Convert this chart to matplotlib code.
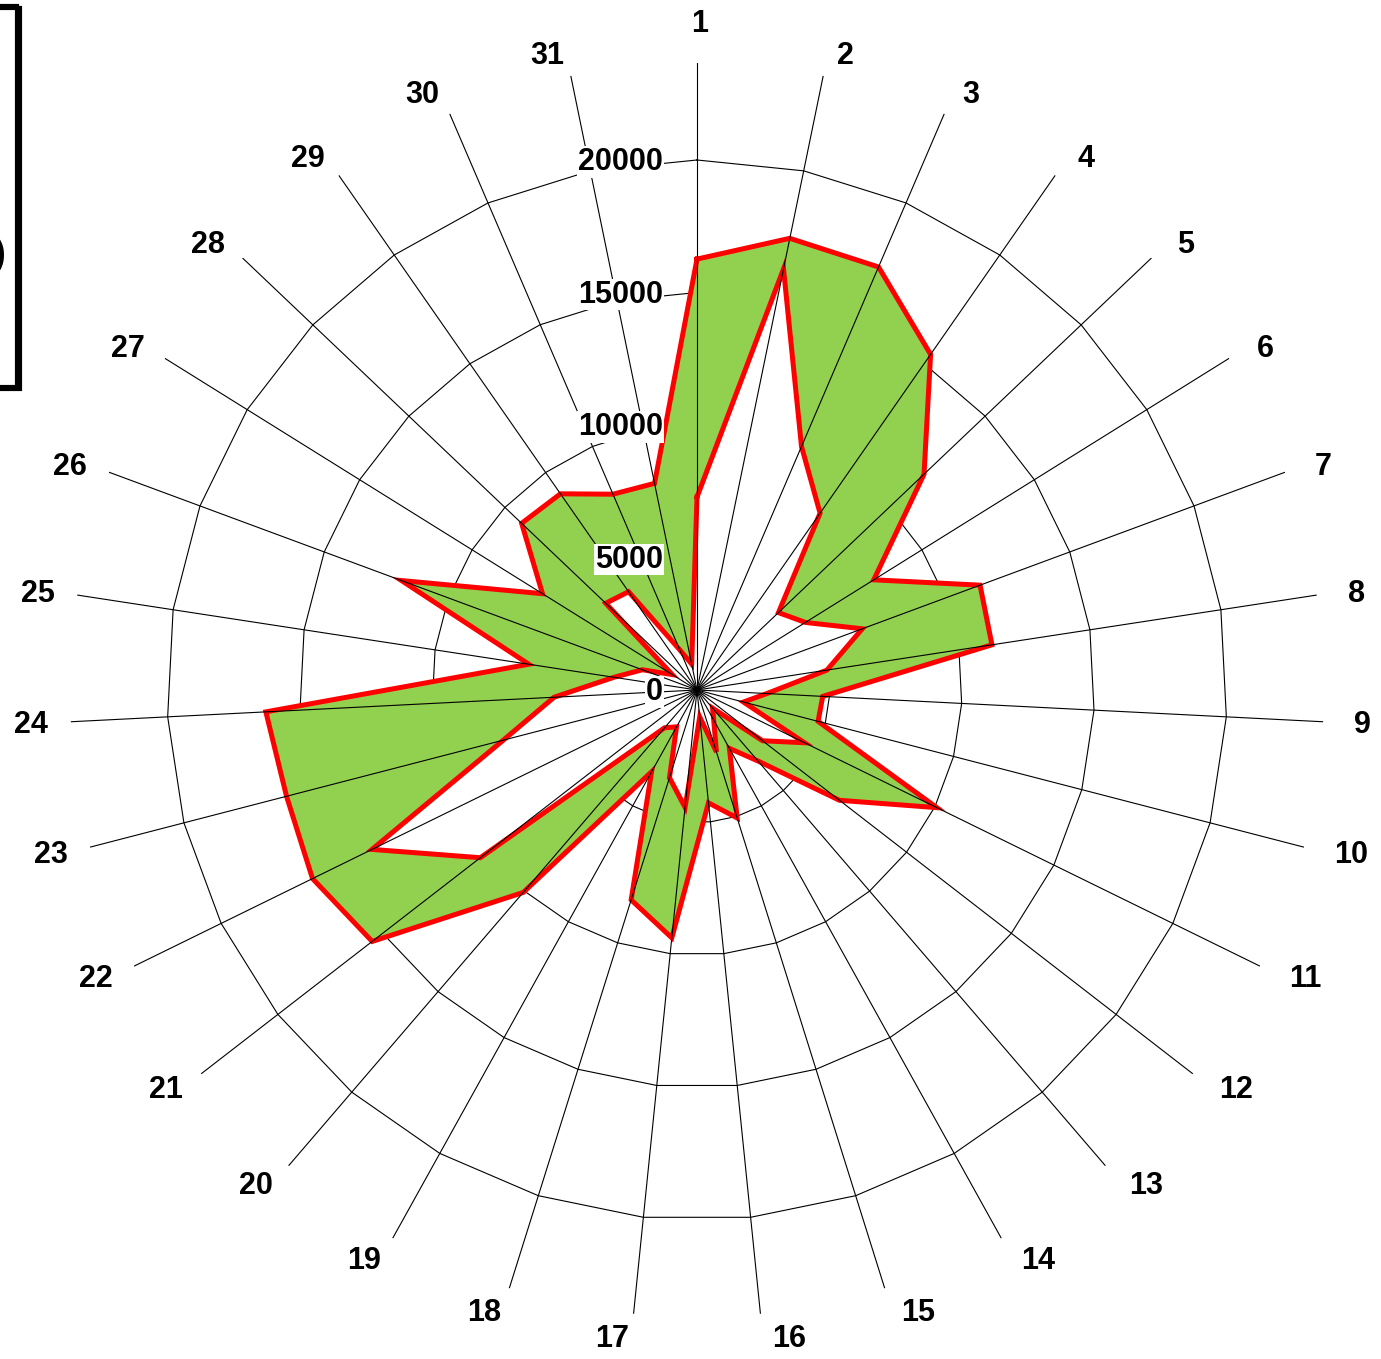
import numpy as np
import matplotlib.pyplot as plt
from matplotlib.patches import Rectangle

plt.rcParams['font.family'] = ['Liberation Sans', 'DejaVu Sans']

# categories 1..31 around the radar
categories = [str(i) for i in range(1, 32)]

# outer series (green fill)
outer = [16260, 17400, 17370, 15430, 11820, 7860, 11390, 11260, 4750, 4720,
         10080, 6800, 3530, 2520, 5060, 4280, 9400, 8300, 3530, 10070,
         15500, 16160, 16000, 16290, 6420, 11890, 6870, 9130, 9020, 8040, 7960]

# inner series (white fill)
inner = [7280, 16220, 10000, 8130, 4240, 4820, 6650, 4960, 2640, 1810,
         4520, 3130, 900, 1300, 2450, 1020, 4450, 3470, 1590, 1880,
         10340, 13660, 7550, 5400, 3170, 2200, 1100, 4750, 4520, 1650, 1000]

ring_values = [5000, 10000, 15000, 20000]
value_labels = ['0', '5000', '10000', '15000', '20000']
r_max = 23660

W, H = 1381, 1359
fig = plt.figure(figsize=(W / 100, H / 100), dpi=100)
px = 0.72  # points per pixel at dpi 100

# center of the radar in pixels, radius of spokes in pixels
cx, cy, rad = 697, 690, 627
ax = fig.add_axes([(cx - rad) / W, (H - cy - rad) / H, 2 * rad / W, 2 * rad / H],
                  projection='polar')
ax.set_theta_zero_location('N')
ax.set_theta_direction(-1)
ax.set_ylim(0, r_max)
ax.set_axis_off()

n = len(categories)
theta = np.deg2rad(np.arange(n) * 360.0 / n)
theta_c = np.append(theta, theta[0])

# polygon rings (below fills)
for v in ring_values:
    ax.plot(theta_c, [v] * (n + 1), color='black', lw=0.8, zorder=1)

outer_c = np.append(outer, outer[0])
inner_c = np.append(inner, inner[0])

ax.fill(theta_c, outer_c, color='#92D050', zorder=2)
ax.fill(theta_c, inner_c, color='white', zorder=3)
ax.plot(theta_c, outer_c, color='#FF0000', lw=3.6, zorder=4, solid_joinstyle='miter')
ax.plot(theta_c, inner_c, color='#FF0000', lw=3.6, zorder=4, solid_joinstyle='miter')

# spokes on top
for t in theta:
    ax.plot([t, t], [0, r_max], color='black', lw=0.8, zorder=5)

# category labels just beyond the spoke ends
for t, lab in zip(theta, categories):
    s, c = np.sin(t), np.cos(t)
    if abs(s) < 0.01:
        ha, dx, dy = 'center', 3, 41 * c
    elif s > 0:
        ha, dx, dy = 'left', 10 + 21 * s, 23 * c
    else:
        ha, dx, dy = 'right', -(2 + 21 * abs(s)), 23 * c
    dy -= 2.5
    ax.annotate(lab, xy=(t, r_max), xytext=(dx * px, dy * px),
                textcoords='offset points', ha=ha, va='center',
                fontsize=22, fontweight='bold', zorder=6, annotation_clip=False)

# value axis labels along spoke 1
for v, lab in zip([0] + ring_values, value_labels):
    ax.annotate(lab, xy=(0, v), xytext=(-24.5, -1.5), textcoords='offset points',
                ha='right', va='center', fontsize=22, fontweight='bold',
                bbox=dict(facecolor='white', edgecolor='none', pad=0.5), zorder=7)

# legend box cut off at the left edge (with a small shadow)
fig.patches.append(Rectangle((-100 / W, 1 - 389 / H), 120 / W, 381 / H,
                             transform=fig.transFigure, fill=False,
                             edgecolor='black', lw=3.0))
fig.patches.append(Rectangle((-100 / W, 1 - 387 / H), 117 / W, 381 / H,
                             transform=fig.transFigure, fill=False,
                             edgecolor='black', lw=3.0))
fig.text(6 / W, 1 - 255 / H, ')', ha='right', va='center', fontsize=28,
         fontweight='bold')

fig.savefig('out.png', dpi=100)
